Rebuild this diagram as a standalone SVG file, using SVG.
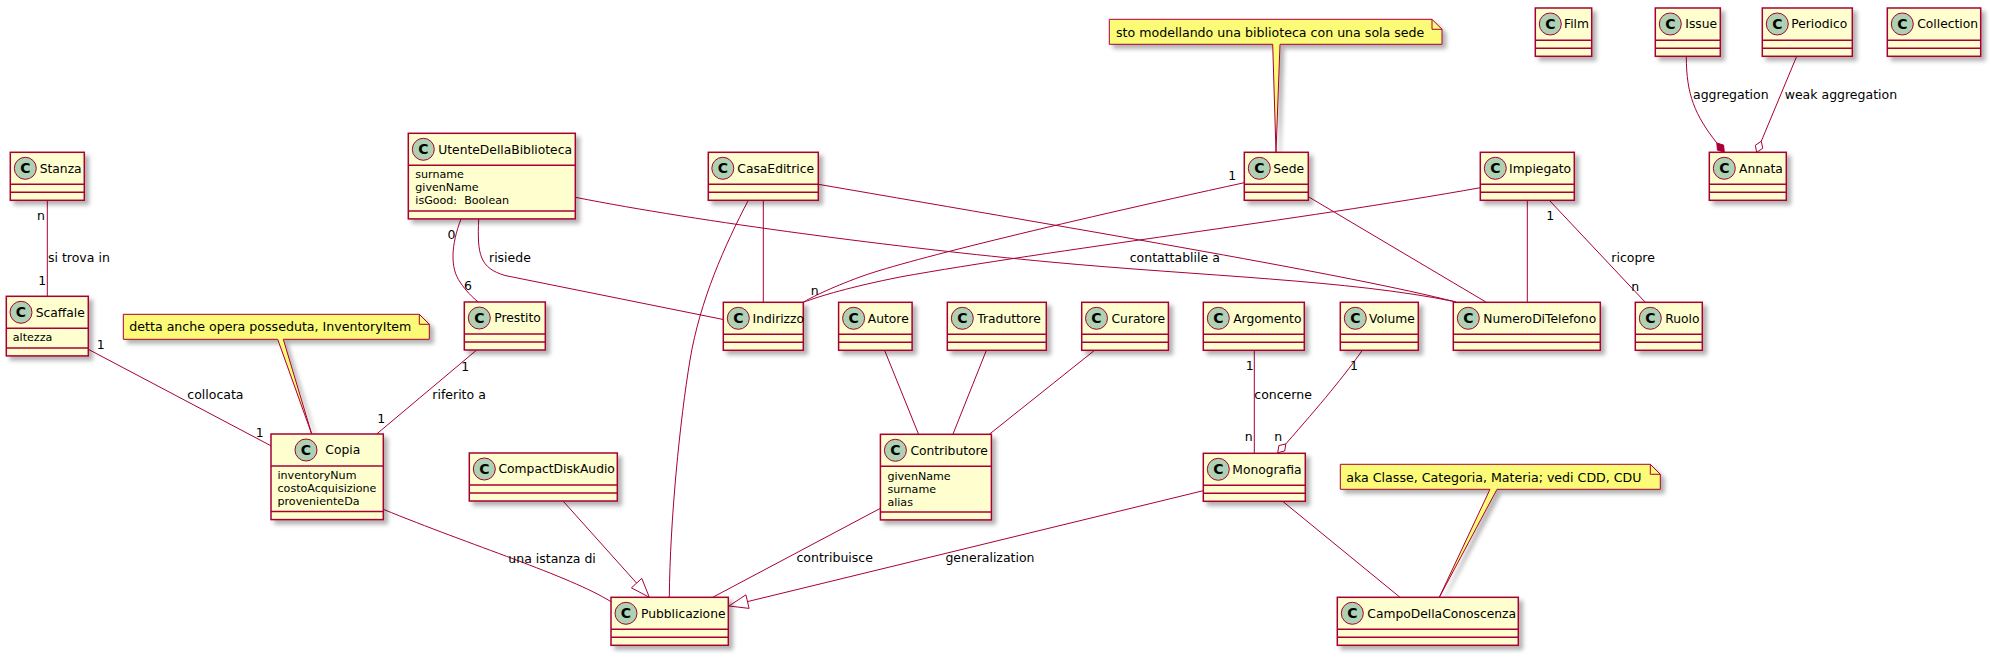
<svg xmlns="http://www.w3.org/2000/svg" width="1991" height="656" viewBox="0 0 1991 656">
<defs>
<filter id="sh" x="-20%" y="-20%" width="150%" height="170%">
<feGaussianBlur in="SourceAlpha" stdDeviation="2"/>
<feOffset dx="4" dy="4" result="b"/>
<feFlood flood-color="#000" flood-opacity="0.3"/>
<feComposite in2="b" operator="in"/>
<feMerge><feMergeNode/><feMergeNode in="SourceGraphic"/></feMerge>
</filter>
<style>
.cls{fill:#FEFECE;stroke:#A80036;stroke-width:1.5;filter:url(#sh)}
.sep{stroke:#A80036;stroke-width:1.5}
.ci{fill:#ADD1B2;stroke:#A80036;stroke-width:1}
.cg{font-family:"DejaVu Sans",sans-serif;font-size:14px;font-weight:bold;text-anchor:middle;fill:#000}
.cn{font-family:"DejaVu Sans",sans-serif;font-size:12.3px;fill:#000}
.at{font-family:"DejaVu Sans",sans-serif;font-size:11.1px;fill:#000;white-space:pre}
.lk{fill:none;stroke:#A80036;stroke-width:1}
.lb{font-family:"DejaVu Sans",sans-serif;font-size:12.5px;fill:#000}
.nt{fill:#FBFB77;stroke:#A80036;stroke-width:1;filter:url(#sh)}
.nf{fill:none;stroke:#A80036;stroke-width:1}
.ntx{font-family:"DejaVu Sans",sans-serif;font-size:12.6px;fill:#000}
.dia{fill:#A80036;stroke:#A80036;stroke-width:1}
.hol{fill:#FFFFFF;stroke:#A80036;stroke-width:1}
</style>
</defs>
<rect x="0" y="0" width="1991" height="656" fill="#FFFFFF"/>

<g id="connectors">
<path class="lk" d="M47.3,200.3 L47.3,296.3"/>
<path class="lk" d="M88.3,349.3 L271,445.8"/>
<path class="lk" d="M476.7,350 L376.7,434"/>
<path class="lk" d="M461,219 C451,245 450,268 460,282 C466,291 472,297 478.3,302"/>
<path class="lk" d="M478.7,219 C477,255 480,268 505,275.5 L723.3,319.5"/>
<path class="lk" d="M575.3,197.3 C700,222 900,248 1050,262 C1200,276 1350,280 1454,301.5"/>
<path class="lk" d="M763.3,200.3 L763.3,302.3"/>
<path class="lk" d="M748.3,200.3 C725,245 700,300 690,360 C680,420 670,520 669.3,597.3"/>
<path class="lk" d="M818.3,184.3 C1100,233 1350,275 1456,302"/>
<path class="lk" d="M1244.3,182.7 C1050,225 900,262 860,277 C830,288 810,298 803.3,302.3"/>
<path class="lk" d="M1480.3,187.7 C1300,220 1050,250 900,277 C850,287 820,296 803.3,302.3"/>
<path class="lk" d="M1308.3,196.7 L1486.4,302.3"/>
<path class="lk" d="M1527.3,200.3 L1527.3,302.3"/>
<path class="lk" d="M1549.3,200.3 L1645.3,302.3"/>
<path class="lk" d="M1686.3,56.3 C1686.3,95 1695,115 1716.8,143"/>
<polygon class="dia" points="1724.3,152.3 1717.4,150.1 1716.8,143 1723.6,145.1"/>
<path class="lk" d="M1796.7,56.3 L1761.3,141.2"/>
<polygon class="hol" points="1756.7,152.3 1755.3,145.3 1761.3,141.2 1762.7,148.3"/>
<path class="lk" d="M884.6,350.3 L918.6,434.3"/>
<path class="lk" d="M986.4,350.3 L952.9,434.3"/>
<path class="lk" d="M1094.6,350.3 L989.3,434.3"/>
<path class="lk" d="M880.4,508.3 L712.7,597.3"/>
<path class="lk" d="M1203.3,490.7 L747.5,601.6"/>
<polygon class="hol" points="729,606 749.1,608.4 745.9,594.8"/>
<path class="lk" d="M563.3,501.3 L636.6,583.1"/>
<polygon class="hol" points="649.3,597.3 641.8,578.4 631.4,587.8"/>
<path class="lk" d="M383.3,509.3 C470,545 570,576 611,601.7"/>
<path class="lk" d="M1254.3,350.3 L1254.3,453.3"/>
<path class="lk" d="M1362.3,350.3 C1345,375 1320,405 1285.8,443.9"/>
<polygon class="hol" points="1277.7,452.7 1278.9,445.6 1285.8,443.9 1284.7,451"/>
<path class="lk" d="M1282.7,501.3 L1400,597.3"/>

<text class="lb" x="37" y="220">n</text>
<text class="lb" x="48" y="261.7">si trova in</text>
<text class="lb" x="38.3" y="285">1</text>
<text class="lb" x="96.7" y="349">1</text>
<text class="lb" x="187.3" y="399.3">collocata</text>
<text class="lb" x="255.7" y="436.7">1</text>
<text class="lb" x="461.3" y="370.7">1</text>
<text class="lb" x="432.3" y="399.3">riferito a</text>
<text class="lb" x="377.3" y="422.5">1</text>
<text class="lb" x="447.5" y="238.5">0</text>
<text class="lb" x="464" y="290">6</text>
<text class="lb" x="489" y="261.7">risiede</text>
<text class="lb" x="1129.7" y="261.7">contattablile a</text>
<text class="lb" x="1228.3" y="180">1</text>
<text class="lb" x="810.7" y="295">n</text>
<text class="lb" x="1546.3" y="220">1</text>
<text class="lb" x="1611.3" y="261.7">ricopre</text>
<text class="lb" x="1631.3" y="290.7">n</text>
<text class="lb" x="1693" y="99">aggregation</text>
<text class="lb" x="1784.7" y="99">weak aggregation</text>
<text class="lb" x="796.5" y="562.3">contribuisce</text>
<text class="lb" x="945.4" y="562.3">generalization</text>
<text class="lb" x="508.3" y="562.7">una istanza di</text>
<text class="lb" x="1245.7" y="370">1</text>
<text class="lb" x="1254.3" y="399">concerne</text>
<text class="lb" x="1244.7" y="441">n</text>
<text class="lb" x="1350" y="370">1</text>
<text class="lb" x="1274.3" y="441">n</text>
</g>

<g id="note-sede">
<path class="nt" d="M1109.3,19.3 L1109.3,44.3 L1272.7,44.3 L1276,152.3 L1280,44.3 L1442,44.3 L1442,29.3 L1432,19.3 Z"/>
<path class="nf" d="M1432,19.3 L1432,29.3 L1442,29.3"/>
<text class="ntx" x="1116" y="36.5">sto modellando una biblioteca con una sola sede</text>
</g>
<g id="note-copia">
<path class="nt" d="M123.3,314.3 L123.3,339.3 L277.7,339.3 L311.7,434 L283.3,339.3 L429.3,339.3 L429.3,324.3 L419.3,314.3 Z"/>
<path class="nf" d="M419.3,314.3 L419.3,324.3 L429.3,324.3"/>
<text class="ntx" x="129.3" y="331">detta anche opera posseduta, InventoryItem</text>
</g>
<g id="note-campo">
<path class="nt" d="M1340.3,464.3 L1340.3,489.3 L1490,489.3 L1439.3,597.3 L1497,489.3 L1660.3,489.3 L1660.3,474.3 L1650.3,464.3 Z"/>
<path class="nf" d="M1650.3,464.3 L1650.3,474.3 L1660.3,474.3"/>
<text class="ntx" x="1346.3" y="481.5">aka Classe, Categoria, Materia; vedi CDD, CDU</text>
</g>

<g id="Stanza"><rect class="cls" x="10.3" y="152.3" width="74" height="48"/><line class="sep" x1="10.3" y1="184.3" x2="84.3" y2="184.3"/><line class="sep" x1="10.3" y1="192.3" x2="84.3" y2="192.3"/><circle class="ci" cx="25.3" cy="168.3" r="11"/><text class="cg" x="25.3" y="173.4">C</text><text class="cn" x="39.7" y="172.7">Stanza</text></g>

<g id="Scaffale"><rect class="cls" x="6.3" y="296.3" width="82" height="59.6"/><line class="sep" x1="6.3" y1="328.3" x2="88.3" y2="328.3"/><line class="sep" x1="6.3" y1="347.9" x2="88.3" y2="347.9"/><circle class="ci" cx="21" cy="312.3" r="11"/><text class="cg" x="21" y="317.4">C</text><text class="cn" x="35.7" y="316.7">Scaffale</text><text class="at" x="12.8" y="341.3">altezza</text></g>

<g id="UtenteDellaBiblioteca"><rect class="cls" x="408.3" y="133.3" width="167" height="85.6"/><line class="sep" x1="408.3" y1="165.3" x2="575.3" y2="165.3"/><line class="sep" x1="408.3" y1="210.9" x2="575.3" y2="210.9"/><circle class="ci" cx="423.3" cy="149.3" r="11"/><text class="cg" x="423.3" y="154.4">C</text><text class="cn" x="438.3" y="153.7">UtenteDellaBiblioteca</text><text class="at" x="415.3" y="178.3">surname</text><text class="at" x="415.3" y="191.3">givenName</text><text class="at" x="415.3" y="204.3">isGood:&#160; Boolean</text></g>

<g id="Prestito"><rect class="cls" x="464.3" y="302" width="81" height="48"/><line class="sep" x1="464.3" y1="334" x2="545.3" y2="334"/><line class="sep" x1="464.3" y1="342" x2="545.3" y2="342"/><circle class="ci" cx="479.3" cy="318" r="11"/><text class="cg" x="479.3" y="323.1">C</text><text class="cn" x="494.3" y="322.4">Prestito</text></g>

<g id="Copia"><rect class="cls" x="271" y="434" width="112.3" height="85.6"/><line class="sep" x1="271" y1="466" x2="383.3" y2="466"/><line class="sep" x1="271" y1="511.6" x2="383.3" y2="511.6"/><circle class="ci" cx="306" cy="450" r="11"/><text class="cg" x="306" y="455.1">C</text><text class="cn" x="325.3" y="454.4">Copia</text><text class="at" x="277.5" y="479.3">inventoryNum</text><text class="at" x="277.5" y="492.3">costoAcquisizione</text><text class="at" x="277.5" y="505.3">provenienteDa</text></g>

<g id="CompactDiskAudio"><rect class="cls" x="469.3" y="453" width="148" height="48"/><line class="sep" x1="469.3" y1="485" x2="617.3" y2="485"/><line class="sep" x1="469.3" y1="493" x2="617.3" y2="493"/><circle class="ci" cx="484.3" cy="469" r="11"/><text class="cg" x="484.3" y="474.1">C</text><text class="cn" x="498.5" y="473.4">CompactDiskAudio</text></g>

<g id="Pubblicazione"><rect class="cls" x="611" y="597.3" width="117.3" height="48"/><line class="sep" x1="611" y1="629.3" x2="728.3" y2="629.3"/><line class="sep" x1="611" y1="637.3" x2="728.3" y2="637.3"/><circle class="ci" cx="626" cy="613.3" r="11"/><text class="cg" x="626" y="618.4">C</text><text class="cn" x="641" y="617.7">Pubblicazione</text></g>

<g id="CasaEditrice"><rect class="cls" x="708.3" y="152.3" width="110" height="48"/><line class="sep" x1="708.3" y1="184.3" x2="818.3" y2="184.3"/><line class="sep" x1="708.3" y1="192.3" x2="818.3" y2="192.3"/><circle class="ci" cx="722.8" cy="168.3" r="11"/><text class="cg" x="722.8" y="173.4">C</text><text class="cn" x="737.3" y="172.7">CasaEditrice</text></g>

<g id="Indirizzo"><rect class="cls" x="723.3" y="302.3" width="80" height="48"/><line class="sep" x1="723.3" y1="334.3" x2="803.3" y2="334.3"/><line class="sep" x1="723.3" y1="342.3" x2="803.3" y2="342.3"/><circle class="ci" cx="738.3" cy="318.3" r="11"/><text class="cg" x="738.3" y="323.4">C</text><text class="cn" x="752.5" y="322.7">Indirizzo</text></g>

<g id="Autore"><rect class="cls" x="838.6" y="302.3" width="73.5" height="48"/><line class="sep" x1="838.6" y1="334.3" x2="912.1" y2="334.3"/><line class="sep" x1="838.6" y1="342.3" x2="912.1" y2="342.3"/><circle class="ci" cx="853.6" cy="318.3" r="11"/><text class="cg" x="853.6" y="323.4">C</text><text class="cn" x="867.8" y="322.7">Autore</text></g>

<g id="Traduttore"><rect class="cls" x="947.3" y="302.3" width="99" height="48"/><line class="sep" x1="947.3" y1="334.3" x2="1046.3" y2="334.3"/><line class="sep" x1="947.3" y1="342.3" x2="1046.3" y2="342.3"/><circle class="ci" cx="962.3" cy="318.3" r="11"/><text class="cg" x="962.3" y="323.4">C</text><text class="cn" x="977.3" y="322.7">Traduttore</text></g>

<g id="Curatore"><rect class="cls" x="1081.7" y="302.3" width="86.7" height="48"/><line class="sep" x1="1081.7" y1="334.3" x2="1168.4" y2="334.3"/><line class="sep" x1="1081.7" y1="342.3" x2="1168.4" y2="342.3"/><circle class="ci" cx="1096.5" cy="318.3" r="11"/><text class="cg" x="1096.5" y="323.4">C</text><text class="cn" x="1111.5" y="322.7">Curatore</text></g>

<g id="Argomento"><rect class="cls" x="1203.3" y="302.3" width="101" height="48"/><line class="sep" x1="1203.3" y1="334.3" x2="1304.3" y2="334.3"/><line class="sep" x1="1203.3" y1="342.3" x2="1304.3" y2="342.3"/><circle class="ci" cx="1218.3" cy="318.3" r="11"/><text class="cg" x="1218.3" y="323.4">C</text><text class="cn" x="1233.2" y="322.7">Argomento</text></g>

<g id="Volume"><rect class="cls" x="1340.3" y="302.3" width="78" height="48"/><line class="sep" x1="1340.3" y1="334.3" x2="1418.3" y2="334.3"/><line class="sep" x1="1340.3" y1="342.3" x2="1418.3" y2="342.3"/><circle class="ci" cx="1355.3" cy="318.3" r="11"/><text class="cg" x="1355.3" y="323.4">C</text><text class="cn" x="1369" y="322.7">Volume</text></g>

<g id="NumeroDiTelefono"><rect class="cls" x="1453.3" y="302.3" width="147" height="48"/><line class="sep" x1="1453.3" y1="334.3" x2="1600.3" y2="334.3"/><line class="sep" x1="1453.3" y1="342.3" x2="1600.3" y2="342.3"/><circle class="ci" cx="1468.3" cy="318.3" r="11"/><text class="cg" x="1468.3" y="323.4">C</text><text class="cn" x="1483.3" y="322.7">NumeroDiTelefono</text></g>

<g id="Ruolo"><rect class="cls" x="1635.3" y="302.3" width="67" height="48"/><line class="sep" x1="1635.3" y1="334.3" x2="1702.3" y2="334.3"/><line class="sep" x1="1635.3" y1="342.3" x2="1702.3" y2="342.3"/><circle class="ci" cx="1650.3" cy="318.3" r="11"/><text class="cg" x="1650.3" y="323.4">C</text><text class="cn" x="1665.2" y="322.7">Ruolo</text></g>

<g id="Sede"><rect class="cls" x="1244.3" y="152.3" width="64" height="48"/><line class="sep" x1="1244.3" y1="184.3" x2="1308.3" y2="184.3"/><line class="sep" x1="1244.3" y1="192.3" x2="1308.3" y2="192.3"/><circle class="ci" cx="1259.3" cy="168.3" r="11"/><text class="cg" x="1259.3" y="173.4">C</text><text class="cn" x="1273.3" y="172.7">Sede</text></g>

<g id="Impiegato"><rect class="cls" x="1480.3" y="152.3" width="94" height="48"/><line class="sep" x1="1480.3" y1="184.3" x2="1574.3" y2="184.3"/><line class="sep" x1="1480.3" y1="192.3" x2="1574.3" y2="192.3"/><circle class="ci" cx="1495.3" cy="168.3" r="11"/><text class="cg" x="1495.3" y="173.4">C</text><text class="cn" x="1509" y="172.7">Impiegato</text></g>

<g id="Annata"><rect class="cls" x="1709.3" y="152.3" width="77" height="48"/><line class="sep" x1="1709.3" y1="184.3" x2="1786.3" y2="184.3"/><line class="sep" x1="1709.3" y1="192.3" x2="1786.3" y2="192.3"/><circle class="ci" cx="1724.3" cy="168.3" r="11"/><text class="cg" x="1724.3" y="173.4">C</text><text class="cn" x="1739" y="172.7">Annata</text></g>

<g id="Film"><rect class="cls" x="1535.3" y="8" width="56.4" height="48.3"/><line class="sep" x1="1535.3" y1="40.3" x2="1591.7" y2="40.3"/><line class="sep" x1="1535.3" y1="48.3" x2="1591.7" y2="48.3"/><circle class="ci" cx="1550.3" cy="24" r="11"/><text class="cg" x="1550.3" y="29.1">C</text><text class="cn" x="1564" y="28.4">Film</text></g>

<g id="Issue"><rect class="cls" x="1655.3" y="8" width="65" height="48.3"/><line class="sep" x1="1655.3" y1="40.3" x2="1720.3" y2="40.3"/><line class="sep" x1="1655.3" y1="48.3" x2="1720.3" y2="48.3"/><circle class="ci" cx="1670.3" cy="24" r="11"/><text class="cg" x="1670.3" y="29.1">C</text><text class="cn" x="1685.3" y="28.4">Issue</text></g>

<g id="Periodico"><rect class="cls" x="1762.3" y="8" width="90" height="48.3"/><line class="sep" x1="1762.3" y1="40.3" x2="1852.3" y2="40.3"/><line class="sep" x1="1762.3" y1="48.3" x2="1852.3" y2="48.3"/><circle class="ci" cx="1777.3" cy="24" r="11"/><text class="cg" x="1777.3" y="29.1">C</text><text class="cn" x="1791.2" y="28.4">Periodico</text></g>

<g id="Collection"><rect class="cls" x="1887.3" y="8" width="93.4" height="48.3"/><line class="sep" x1="1887.3" y1="40.3" x2="1980.7" y2="40.3"/><line class="sep" x1="1887.3" y1="48.3" x2="1980.7" y2="48.3"/><circle class="ci" cx="1902.3" cy="24" r="11"/><text class="cg" x="1902.3" y="29.1">C</text><text class="cn" x="1917.2" y="28.4">Collection</text></g>

<g id="Contributore"><rect class="cls" x="880.4" y="434.3" width="111" height="85.6"/><line class="sep" x1="880.4" y1="466.3" x2="991.4" y2="466.3"/><line class="sep" x1="880.4" y1="511.9" x2="991.4" y2="511.9"/><circle class="ci" cx="895.4" cy="450.3" r="11"/><text class="cg" x="895.4" y="455.4">C</text><text class="cn" x="910.4" y="454.7">Contributore</text><text class="at" x="887.4" y="479.5">givenName</text><text class="at" x="887.4" y="492.5">surname</text><text class="at" x="887.4" y="505.5">alias</text></g>

<g id="Monografia"><rect class="cls" x="1203.3" y="453.3" width="102" height="48"/><line class="sep" x1="1203.3" y1="485.3" x2="1305.3" y2="485.3"/><line class="sep" x1="1203.3" y1="493.3" x2="1305.3" y2="493.3"/><circle class="ci" cx="1218.3" cy="469.3" r="11"/><text class="cg" x="1218.3" y="474.4">C</text><text class="cn" x="1232.3" y="473.7">Monografia</text></g>

<g id="CampoDellaConoscenza"><rect class="cls" x="1337.3" y="597.3" width="181" height="48"/><line class="sep" x1="1337.3" y1="629.3" x2="1518.3" y2="629.3"/><line class="sep" x1="1337.3" y1="637.3" x2="1518.3" y2="637.3"/><circle class="ci" cx="1352.3" cy="613.3" r="11"/><text class="cg" x="1352.3" y="618.4">C</text><text class="cn" x="1367.3" y="617.7">CampoDellaConoscenza</text></g>
</svg>
